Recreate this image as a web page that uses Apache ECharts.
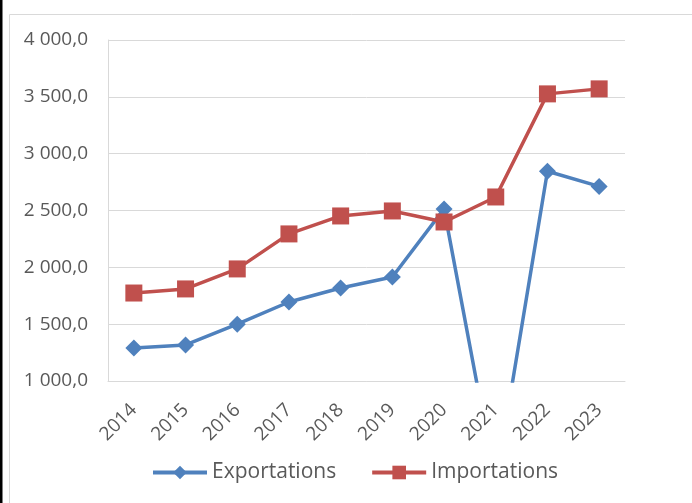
<!DOCTYPE html>
<html>
<head>
<meta charset="utf-8">
<script src="https://cdn.jsdelivr.net/npm/echarts@6/dist/echarts.min.js"></script>
<style>
  html, body { margin: 0; padding: 0; background: #fff; }
  #chart { width: 692px; height: 503px; }
</style>
</head>
<body>
<div id="chart"></div>
<script>
var years = ['2014', '2015', '2016', '2017', '2018', '2019', '2020', '2021', '2022', '2023']
var exportations = [1290, 1317, 1500, 1695, 1818, 1915, 2514, 100, 2845, 2712]
var importations = [1774, 1810, 1986, 2294, 2452, 2496, 2399, 2619, 3526, 3570]
var yTicks = [1000, 4000, 500] // min, max, interval

function fmt (v) {
  // 4000 -> "4 000,0"
  var s = Math.round(v).toString().replace(/\B(?=(\d{3})+(?!\d))/g, ' ')
  return s + ',0'
}

var myChart = echarts.init(document.getElementById('chart'))
var option = {
  animation: false,
  textStyle: { fontFamily: 'Open Sans, sans-serif' },
  graphic: [
    { type: 'rect', shape: { x: 9.5, y: 14.5, width: 720, height: 520 }, style: { fill: 'none', stroke: '#d9d9d9', lineWidth: 1 } },
    { type: 'rect', shape: { x: 0, y: 0, width: 2.5, height: 503 }, style: { fill: '#000' } }
  ],
  grid: { left: 108, right: 67, top: 40, bottom: 122 },
  legend: {
    top: 457,
    left: 146,
    itemWidth: 54,
    itemHeight: 17,
    itemGap: 34,
    lineStyle: { width: 4 },
    textStyle: { fontSize: 21, color: '#595959' },
    data: ['Exportations', 'Importations']
  },
  xAxis: {
    type: 'category',
    data: years,
    axisLine: { lineStyle: { color: '#d9d9d9' } },
    axisTick: { show: false },
    axisLabel: { rotate: 45, fontSize: 19, color: '#595959', margin: 26 }
  },
  yAxis: {
    type: 'value',
    min: yTicks[0],
    max: yTicks[1],
    interval: yTicks[2],
    axisLine: { show: true, lineStyle: { color: '#d9d9d9' } },
    splitLine: { lineStyle: { color: '#d9d9d9', width: 1 } },
    axisLabel: { fontSize: 19, color: '#595959', margin: 20, formatter: fmt }
  },
  series: [
    {
      name: 'Exportations',
      type: 'line',
      data: exportations,
      clip: true,
      symbol: 'diamond',
      symbolSize: 17,
      color: '#4f81bd',
      lineStyle: { width: 3.5, color: '#4f81bd' },
      itemStyle: { color: '#4f81bd' }
    },
    {
      name: 'Importations',
      type: 'line',
      data: importations,
      clip: true,
      symbol: 'rect',
      symbolSize: 17,
      color: '#c0504d',
      lineStyle: { width: 3.5, color: '#c0504d' },
      itemStyle: { color: '#c0504d' }
    }
  ]
}
myChart.setOption(option)
</script>
</body>
</html>
